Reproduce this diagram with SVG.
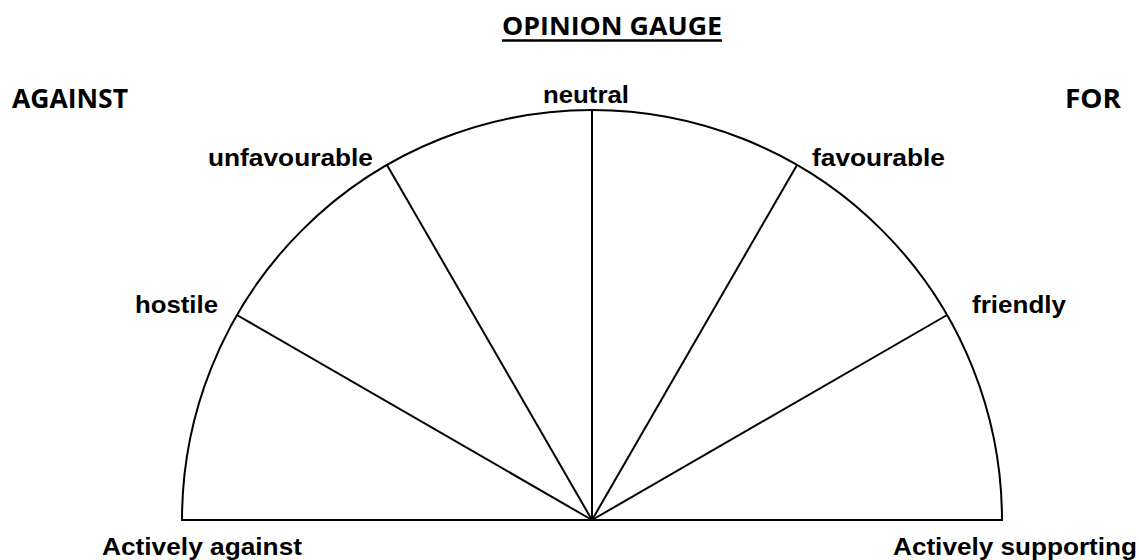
<svg xmlns="http://www.w3.org/2000/svg" width="1139" height="560" viewBox="0 0 1139 560">
<style>
.lbl{font-family:"Liberation Sans",Arial,sans-serif;font-weight:bold;font-size:24px;fill:#000}
.hdr{font-family:"Open Sans","Liberation Sans",sans-serif;font-weight:bold;font-size:27px;fill:#000}
.ln{stroke:#000;stroke-width:2;fill:none}
</style>
<rect width="1139" height="560" fill="#fff"/>
<g id="title">
<text class="hdr" x="502" y="35" textLength="220" lengthAdjust="spacingAndGlyphs" style="font-size:25px">OPINION GAUGE</text>
<line x1="502" y1="40.5" x2="722" y2="40.5" stroke="#000" stroke-width="2.5"/>
</g>
<g id="against"><text class="hdr" x="12" y="108" textLength="116" lengthAdjust="spacingAndGlyphs">AGAINST</text></g>
<g id="for"><text class="hdr" x="1065" y="108" textLength="56" lengthAdjust="spacingAndGlyphs">FOR</text></g>
<g id="gauge">
<path class="ln" d="M182,520 A410,410 0 0 1 1002,520 Z"/>
</g>
<g id="connectors">
<line class="ln" x1="592" y1="520" x2="236.9" y2="315"/>
<line class="ln" x1="592" y1="520" x2="387" y2="164.9"/>
<line class="ln" x1="592" y1="520" x2="592" y2="110"/>
<line class="ln" x1="592" y1="520" x2="797" y2="164.9"/>
<line class="ln" x1="592" y1="520" x2="947.1" y2="315"/>
</g>
<g id="neutral"><text class="lbl" x="543" y="103" textLength="86" lengthAdjust="spacingAndGlyphs">neutral</text></g>
<g id="unfavourable"><text class="lbl" x="208" y="166" textLength="165" lengthAdjust="spacingAndGlyphs">unfavourable</text></g>
<g id="favourable"><text class="lbl" x="812" y="166" textLength="133" lengthAdjust="spacingAndGlyphs">favourable</text></g>
<g id="hostile"><text class="lbl" x="135" y="313" textLength="83" lengthAdjust="spacingAndGlyphs">hostile</text></g>
<g id="friendly"><text class="lbl" x="972" y="313" textLength="94" lengthAdjust="spacingAndGlyphs">friendly</text></g>
<g id="actively-against"><text class="lbl" x="102" y="555" textLength="200" lengthAdjust="spacingAndGlyphs">Actively against</text></g>
<g id="actively-supporting"><text class="lbl" x="893" y="555" textLength="244" lengthAdjust="spacingAndGlyphs">Actively supporting</text></g>
</svg>
